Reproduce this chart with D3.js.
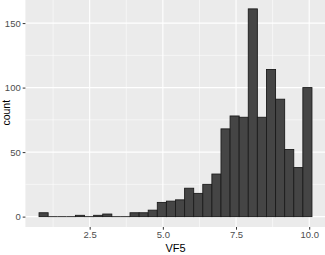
<!DOCTYPE html>
<html>
<head>
<meta charset="utf-8">
<script src="https://cdn.jsdelivr.net/npm/d3@7"></script>
<style>
  body { margin: 0; background: #fff; }
  text { font-family: "Liberation Sans Narrow", "Arial Narrow", "Liberation Sans", sans-serif; }
</style>
</head>
<body>
<div id="chart"></div>
<script>
const width = 325;
const height = 255;

// histogram bins (30 bins)
const binStart = 0.77;
const binWidth = 0.3108;
const counts = [3, 0, 0, 0, 1, 0, 1, 2, 0, 0,
                3, 3, 5, 11, 12, 13, 22, 18, 25, 33,
                68, 78, 77, 161, 77, 114, 91, 52, 38, 100];
const xTicks = [2.5, 5, 7.5, 10];
const xTickLabels = ["2.5", "5.0", "7.5", "10.0"];
const yTicks = [0, 50, 100, 150];

const bins = counts.map((c, i) => ({
  x0: binStart + i * binWidth,
  x1: binStart + (i + 1) * binWidth,
  count: c
}));

const xMin = binStart;
const xMax = binStart + counts.length * binWidth;
const xPad = (xMax - xMin) * 0.05;
const yMax = d3.max(counts);
const yPad = yMax * 0.05;

const panel = { left: 25.4, right: 325.6, top: -1.5, bottom: 227 };

const xScale = d3.scaleLinear()
  .domain([xMin - xPad, xMax + xPad])
  .range([panel.left, panel.right]);

const yScale = d3.scaleLinear()
  .domain([-yPad, yMax + yPad])
  .range([panel.bottom, panel.top]);

const svg = d3.select("#chart")
  .append("svg")
  .attr("width", width)
  .attr("height", height);

svg.append("rect")
  .attr("x", panel.left)
  .attr("y", panel.top)
  .attr("width", panel.right - panel.left)
  .attr("height", panel.bottom - panel.top)
  .attr("fill", "#ebebeb");

// minor grid
const xMinor = [1.25, 3.75, 6.25, 8.75];
const yMinor = [25, 75, 125];
svg.selectAll(".xminor")
  .data(xMinor)
  .enter()
  .append("line")
  .attr("x1", d => xScale(d)).attr("x2", d => xScale(d))
  .attr("y1", panel.top).attr("y2", panel.bottom)
  .attr("stroke", "#fff").attr("stroke-width", 0.55);
svg.selectAll(".yminor")
  .data(yMinor)
  .enter()
  .append("line")
  .attr("x1", panel.left).attr("x2", panel.right)
  .attr("y1", d => yScale(d)).attr("y2", d => yScale(d))
  .attr("stroke", "#fff").attr("stroke-width", 0.55);

// major grid
svg.selectAll(".xmajor")
  .data(xTicks)
  .enter()
  .append("line")
  .attr("x1", d => xScale(d)).attr("x2", d => xScale(d))
  .attr("y1", panel.top).attr("y2", panel.bottom)
  .attr("stroke", "#fff").attr("stroke-width", 1.1);
svg.selectAll(".ymajor")
  .data(yTicks)
  .enter()
  .append("line")
  .attr("x1", panel.left).attr("x2", panel.right)
  .attr("y1", d => yScale(d)).attr("y2", d => yScale(d))
  .attr("stroke", "#fff").attr("stroke-width", 1.1);

// bars (empty bins still show their outline as a flat line)
svg.selectAll(".bar")
  .data(bins.filter(d => d.count > 0))
  .enter()
  .append("rect")
  .attr("class", "bar")
  .attr("x", d => xScale(d.x0))
  .attr("y", d => yScale(d.count))
  .attr("width", d => xScale(d.x1) - xScale(d.x0))
  .attr("height", d => yScale(0) - yScale(d.count))
  .attr("fill", "#454545")
  .attr("stroke", "#1c1c1c")
  .attr("stroke-width", 0.9);

svg.selectAll(".empty")
  .data(bins.filter(d => d.count === 0))
  .enter()
  .append("line")
  .attr("class", "empty")
  .attr("x1", d => xScale(d.x0))
  .attr("x2", d => xScale(d.x1))
  .attr("y1", yScale(0))
  .attr("y2", yScale(0))
  .attr("stroke", "#1c1c1c")
  .attr("stroke-width", 0.9);

// axes
const xAxis = d3.axisBottom(xScale)
  .tickValues(xTicks)
  .tickFormat((d, i) => xTickLabels[i])
  .tickSize(2.7)
  .tickPadding(2);

const yAxis = d3.axisLeft(yScale)
  .tickValues(yTicks)
  .tickSize(2.7)
  .tickPadding(2);

const gx = svg.append("g")
  .attr("transform", `translate(0, ${panel.bottom})`)
  .call(xAxis);

const gy = svg.append("g")
  .attr("transform", `translate(${panel.left}, 0)`)
  .call(yAxis);

[gx, gy].forEach(g => {
  g.select(".domain").remove();
  g.selectAll(".tick line").attr("stroke", "#333").attr("stroke-width", 1);
  g.selectAll(".tick text")
    .attr("fill", "#4d4d4d")
    .style("font-size", "9.5px");
});

svg.append("text")
  .attr("x", (panel.left + panel.right) / 2)
  .attr("y", 252)
  .attr("text-anchor", "middle")
  .attr("fill", "#000")
  .style("font-size", "11px")
  .text("VF5");

svg.append("text")
  .attr("transform", `translate(9.5, ${(panel.top + panel.bottom) / 2}) rotate(-90)`)
  .attr("text-anchor", "middle")
  .attr("fill", "#000")
  .style("font-size", "10.5px")
  .text("count");
</script>
</body>
</html>
